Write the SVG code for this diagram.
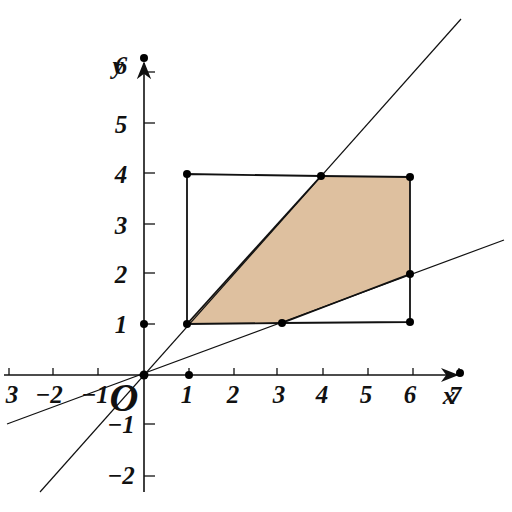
<svg xmlns="http://www.w3.org/2000/svg" width="512" height="512" viewBox="0 0 512 512">
<style>
.ax{stroke:#111;stroke-width:1.6;fill:none}
.tk{stroke:#111;stroke-width:1.3}
.ln{stroke:#111;stroke-width:1.2;fill:none}
.ed{stroke:#111;stroke-width:1.8;fill:none}
.dot{fill:#000}
.lb{font-family:"Liberation Serif",serif;font-style:italic;font-weight:bold;font-size:25px;fill:#111}
</style>
<defs>
<marker id="ar" viewBox="0 0 10 10" refX="9" refY="5" markerWidth="18" markerHeight="18" markerUnits="userSpaceOnUse" orient="auto">
<path d="M0,1 L10,5 L0,9 L3,5 Z" fill="#111"/>
</marker>
</defs>
<rect width="512" height="512" fill="#fff"/>
<g id="region">
<polygon points="187,324 321,176 410,177 410,274 282,323" fill="#dec09f"/>
</g>
<g id="axes">
<line class="ax" x1="4" y1="375" x2="457" y2="375" marker-end="url(#ar)"/>
<line class="ax" x1="144" y1="492" x2="144" y2="63" marker-end="url(#ar)"/>
<g class="tk">
<line x1="9" y1="375" x2="9" y2="368"/><line x1="53" y1="375" x2="53" y2="368"/><line x1="98" y1="375" x2="98" y2="368"/>
<line x1="189" y1="375" x2="189" y2="368"/><line x1="234" y1="375" x2="234" y2="368"/><line x1="277" y1="375" x2="277" y2="368"/>
<line x1="323" y1="375" x2="323" y2="368"/><line x1="368" y1="375" x2="368" y2="368"/><line x1="413" y1="375" x2="413" y2="368"/>
<line x1="459" y1="375" x2="459" y2="368"/>
<line x1="144" y1="72" x2="155" y2="72"/><line x1="144" y1="123" x2="155" y2="123"/><line x1="144" y1="173" x2="155" y2="173"/>
<line x1="144" y1="224" x2="155" y2="224"/><line x1="144" y1="273" x2="155" y2="273"/><line x1="144" y1="324" x2="155" y2="324"/>
<line x1="144" y1="424" x2="155" y2="424"/><line x1="144" y1="476" x2="155" y2="476"/>
</g>
</g>
<g id="connectors">
<line class="ln" x1="40" y1="492" x2="461" y2="19"/>
<line class="ln" x1="7" y1="424" x2="504" y2="240"/>
<polyline class="ed" points="187,324 187,174 321,176 410,177 410,322 282,323 187,324"/>
<line class="ed" x1="187" y1="324" x2="321" y2="176"/>
<line class="ed" x1="282" y1="323" x2="410" y2="274"/>
</g>
<g id="points">
<circle class="dot" cx="144" cy="58" r="4"/>
<circle class="dot" cx="460" cy="373" r="4"/>
<circle class="dot" cx="144" cy="375" r="4.5"/>
<circle class="dot" cx="189" cy="375" r="4"/>
<circle class="dot" cx="144" cy="324" r="4"/>
<circle class="dot" cx="187" cy="324" r="4"/>
<circle class="dot" cx="187" cy="174" r="4"/>
<circle class="dot" cx="321" cy="176" r="4"/>
<circle class="dot" cx="410" cy="177" r="4"/>
<circle class="dot" cx="410" cy="274" r="4"/>
<circle class="dot" cx="410" cy="322" r="4"/>
<circle class="dot" cx="282" cy="323" r="4"/>
</g>
<g id="labels" class="lb">
<text x="12" y="403" text-anchor="middle">3</text>
<text x="49" y="403" text-anchor="middle">−2</text>
<text x="95" y="403" text-anchor="middle">−1</text>
<text x="124" y="411" text-anchor="middle" font-size="40">O</text>
<text x="187" y="403" text-anchor="middle">1</text>
<text x="233" y="403" text-anchor="middle">2</text>
<text x="279" y="403" text-anchor="middle">3</text>
<text x="322" y="403" text-anchor="middle">4</text>
<text x="366" y="403" text-anchor="middle">5</text>
<text x="410" y="403" text-anchor="middle">6</text>
<text x="449" y="404" text-anchor="middle">x</text>
<text x="455" y="404" text-anchor="middle">7</text>
<text x="118" y="74" text-anchor="middle">y</text>
<text x="121" y="74" text-anchor="middle">6</text>
<text x="121" y="133" text-anchor="middle">5</text>
<text x="121" y="183" text-anchor="middle">4</text>
<text x="121" y="234" text-anchor="middle">3</text>
<text x="121" y="283" text-anchor="middle">2</text>
<text x="121" y="333" text-anchor="middle">1</text>
<text x="121" y="433" text-anchor="middle">−1</text>
<text x="121" y="484" text-anchor="middle">−2</text>
</g>
</svg>
